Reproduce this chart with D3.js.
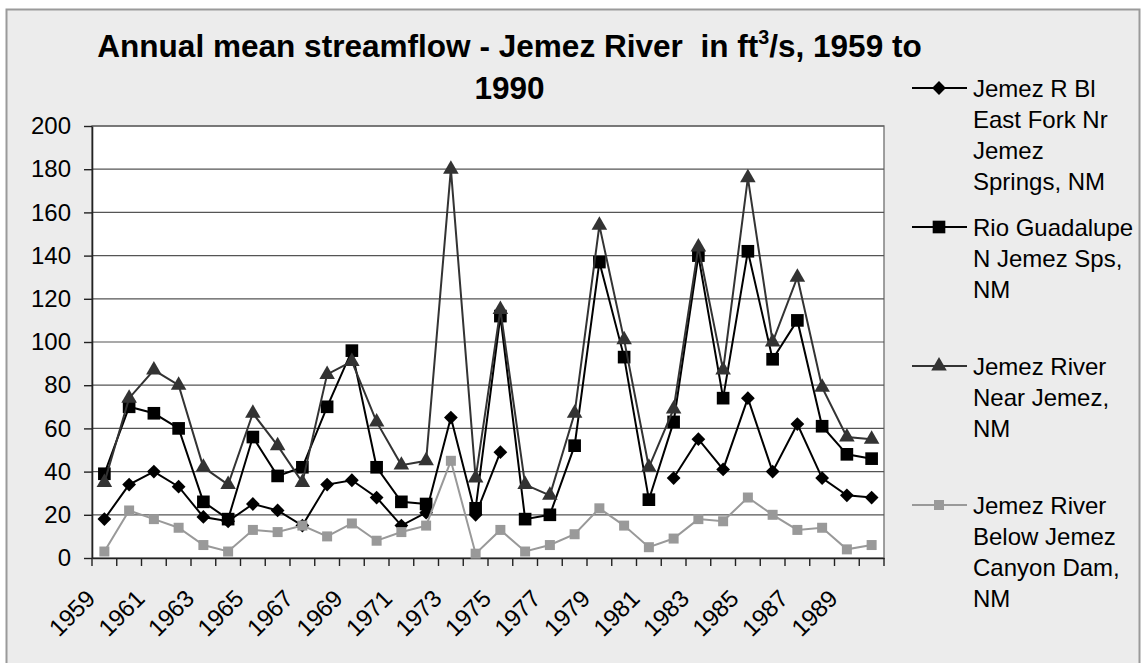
<!DOCTYPE html>
<html>
<head>
<meta charset="utf-8">
<script src="https://cdn.jsdelivr.net/npm/d3@7/dist/d3.min.js"></script>
<style>
  body { margin: 0; background: #ffffff; }
  svg text { font-family: "Liberation Sans", Arial, sans-serif; }
</style>
</head>
<body>
<div id="chart"></div>
<script>

// categories (one per year)
var years = ["1959","1960","1961","1962","1963","1964","1965","1966","1967","1968",
             "1969","1970","1971","1972","1973","1974","1975","1976","1977","1978",
             "1979","1980","1981","1982","1983","1984","1985","1986","1987","1988",
             "1989","1990"];

// x labels shown (every other year)
var yearLabels = ["1959","1961","1963","1965","1967","1969","1971","1973",
                  "1975","1977","1979","1981","1983","1985","1987","1989"];

// y ticks
var yTicks = [0, 20, 40, 60, 80, 100, 120, 140, 160, 180, 200];

// series values, ft3/s (null = no data)
var eastFork   = [18,34,40,33,19,17,25,22,15,34,36,28,15,21,65,20,49,null,null,null,null,null,null,37,55,41,74,40,62,37,29,28];
var guadalupe  = [39,70,67,60,26,18,56,38,42,70,96,42,26,25,null,23,112,18,20,52,137,93,27,63,140,74,142,92,110,61,48,46];
var nearJemez  = [35,74,87,80,42,34,67,52,35,85,91,63,43,45,180,37,115,34,29,67,154,101,42,69,144,87,176,100,130,79,56,55];
var belowDam   = [3,22,18,14,6,3,13,12,15,10,16,8,12,15,45,2,13,3,6,11,23,15,5,9,18,17,28,20,13,14,4,6];

// legend labels, already wrapped the way the chart wraps them
var legendLines = [
  ["Jemez R Bl", "East Fork Nr", "Jemez", "Springs, NM"],
  ["Rio Guadalupe", "N Jemez Sps,", "NM"],
  ["Jemez River", "Near Jemez,", "NM"],
  ["Jemez River", "Below Jemez", "Canyon Dam,", "NM"]
];

var series = [
  {values: eastFork,  color: "#000000", symbol: "diamond"},
  {values: guadalupe, color: "#000000", symbol: "square"},
  {values: nearJemez, color: "#333333", symbol: "triangle"},
  {values: belowDam,  color: "#999999", symbol: "smallsquare"}
];

var W = 1146, H = 663;
// plot area
var plot = {left: 92, top: 126, right: 884, bottom: 558};

var svg = d3.select("#chart")
  .append("svg")
  .attr("width", W)
  .attr("height", H);

// chart background + frame
svg.append("rect")
  .attr("x", 6.5).attr("y", 9.5)
  .attr("width", 1133).attr("height", 670)
  .attr("fill", "#ececec")
  .attr("stroke", "#9a9a9a")
  .attr("stroke-width", 2);

var x = d3.scaleBand()
  .domain(years)
  .range([plot.left, plot.right]);

var y = d3.scaleLinear()
  .domain([0, 200])
  .range([plot.bottom, plot.top]);

// plot background
svg.append("rect")
  .attr("x", plot.left).attr("y", plot.top)
  .attr("width", plot.right - plot.left)
  .attr("height", plot.bottom - plot.top)
  .attr("fill", "#ffffff")
  .attr("stroke", "#808080")
  .attr("stroke-width", 1.5);

// horizontal gridlines
svg.append("g")
  .selectAll("line")
  .data(yTicks.slice(1))
  .enter().append("line")
    .attr("x1", plot.left).attr("x2", plot.right)
    .attr("y1", function(d){ return y(d); })
    .attr("y2", function(d){ return y(d); })
    .attr("stroke", "#555555")
    .attr("stroke-width", 1.2);

// Y axis
var yAxis = svg.append("g")
  .attr("transform", "translate(" + plot.left + ",0)")
  .call(d3.axisLeft(y).tickValues(yTicks).tickSize(8).tickSizeOuter(0).tickPadding(13));
yAxis.select(".domain").attr("stroke", "#222").attr("stroke-width", 1.6);
yAxis.selectAll(".tick line").attr("stroke", "#222").attr("stroke-width", 1.4);
yAxis.selectAll("text")
  .attr("font-size", "24px")
  .attr("font-family", "Liberation Sans, Arial, sans-serif")
  .attr("fill", "#000");

// X axis: line, tick marks on category boundaries, rotated labels
var xAxis = svg.append("g")
  .attr("transform", "translate(0," + plot.bottom + ")")
  .call(d3.axisBottom(x).tickValues(yearLabels).tickSize(0).tickSizeOuter(0));
xAxis.select(".domain").attr("stroke", "#222").attr("stroke-width", 1.6);
xAxis.selectAll("text")
  .attr("font-size", "24px")
  .attr("font-family", "Liberation Sans, Arial, sans-serif")
  .attr("fill", "#000")
  .attr("y", 0).attr("dy", 0)
  .style("text-anchor", "end")
  .attr("transform", "translate(" + (x.bandwidth()/2 - 20) + ",42) rotate(-45)");

var bounds = years.map(function(d){ return x(d); }).concat([x.range()[1]]);
svg.append("g")
  .selectAll("line")
  .data(bounds)
  .enter().append("line")
    .attr("x1", function(d){ return d; }).attr("x2", function(d){ return d; })
    .attr("y1", plot.bottom).attr("y2", plot.bottom + 8)
    .attr("stroke", "#222")
    .attr("stroke-width", 1.4);

// markers
var markerPath = function(kind) {
  if (kind == "diamond") return d3.symbol().type(d3.symbolSquare).size(95)();
  if (kind == "square") return d3.symbol().type(d3.symbolSquare).size(160)();
  if (kind == "triangle") return d3.symbol().type(d3.symbolTriangle).size(105)();
  if (kind == "smallsquare") return d3.symbol().type(d3.symbolSquare).size(100)();
}
var markerRot = function(kind) {
  return kind == "diamond" ? " rotate(45)" : "";
}

var line = d3.line()
  .defined(function(d){ return d != null; })
  .x(function(d, i){ return x(years[i]) + x.bandwidth()/2; })
  .y(function(d){ return y(d); });

series.forEach(function(s) {
  var g = svg.append("g");
  g.append("path")
    .datum(s.values)
    .attr("fill", "none")
    .attr("stroke", s.color)
    .attr("stroke-width", 2)
    .attr("d", line);
  g.selectAll("path.mk")
    .data(s.values.map(function(v, i){ return {v: v, yr: years[i]}; })
      .filter(function(d){ return d.v != null; }))
    .enter().append("path")
      .attr("class", "mk")
      .attr("d", markerPath(s.symbol))
      .attr("fill", s.color)
      .attr("transform", function(d){
        return "translate(" + (x(d.yr) + x.bandwidth()/2) + "," + y(d.v) + ")" + markerRot(s.symbol);
      });
});

// title (two lines, squeezed horizontally like the original)
var titleX = 509.5;
var t1 = svg.append("text")
  .attr("font-size", "32px")
  .attr("font-weight", 700)
  .attr("text-anchor", "middle")
  .attr("x", 0).attr("y", 0);
t1.append("tspan").text("Annual mean streamflow - Jemez River\u00a0 in ft");
t1.append("tspan").attr("font-size", "20px").attr("dy", -13).text("3");
t1.append("tspan").attr("dy", 13).text("/s, 1959 to");
var sx = 825 / t1.node().getComputedTextLength();
t1.attr("transform", "translate(" + titleX + ",57) scale(" + sx + ",1)");

svg.append("text")
  .attr("font-size", "32px")
  .attr("font-weight", 700)
  .attr("text-anchor", "middle")
  .attr("transform", "translate(" + titleX + ",99) scale(" + sx + ",1)")
  .text("1990");

// legend
var legend = svg.append("g");
series.forEach(function(s, i) {
  var ly = 88 + i * 139;
  legend.append("line")
    .attr("x1", 912).attr("x2", 967)
    .attr("y1", ly).attr("y2", ly)
    .attr("stroke", s.color)
    .attr("stroke-width", 2);
  legend.append("path")
    .attr("d", markerPath(s.symbol))
    .attr("fill", s.color)
    .attr("transform", "translate(939," + ly + ")" + markerRot(s.symbol));
  legendLines[i].forEach(function(txt, k) {
    legend.append("text")
      .attr("x", 973)
      .attr("y", ly + k * 31)
      .attr("dy", "0.36em")
      .attr("font-size", "24px")
      .attr("fill", "#000")
      .text(txt);
  });
});

</script>
</body>
</html>
